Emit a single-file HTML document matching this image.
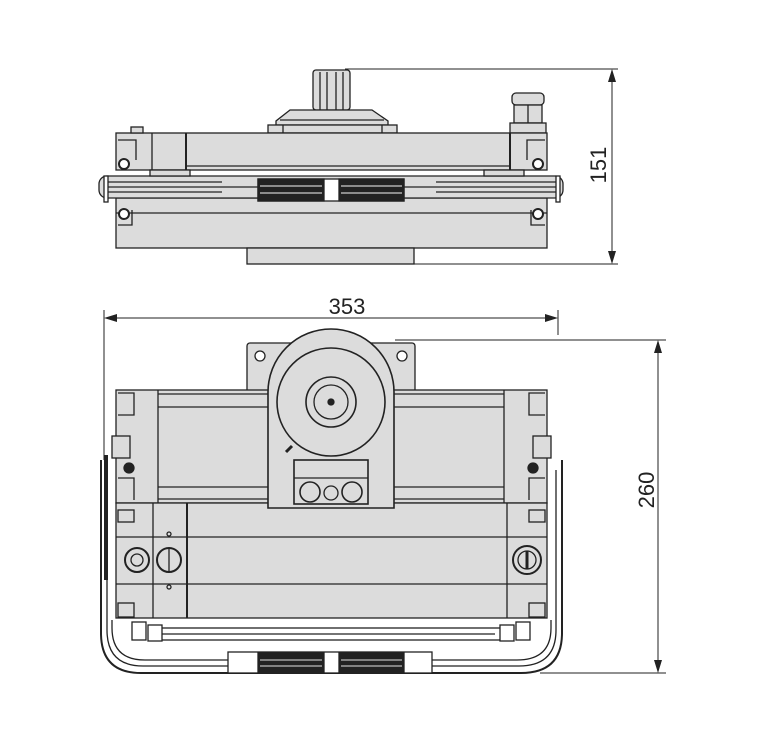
<!DOCTYPE html>
<html><head><meta charset="utf-8"><style>
html,body{margin:0;padding:0;background:#fff;}
svg{display:block;}
text{font-family:"Liberation Sans",sans-serif;fill:#222;}
</style></head><body>
<svg width="771" height="753" viewBox="0 0 771 753" xmlns="http://www.w3.org/2000/svg">
<g stroke="#222" stroke-width="1.3" fill="none">
<!-- ===== TOP VIEW ===== -->
<line x1="345" y1="69" x2="618" y2="69" stroke-width="1"/>
<line x1="414" y1="264" x2="618" y2="264" stroke-width="1"/>
<line x1="612" y1="72" x2="612" y2="261" stroke-width="1"/>
<polygon points="612,69 608,82 616,82" fill="#222" stroke="none"/>
<polygon points="612,264 608,251 616,251" fill="#222" stroke="none"/>
<rect x="313" y="70" width="37" height="40" rx="3" fill="#dcdcdc"/>
<line x1="320" y1="72" x2="320" y2="110"/><line x1="327" y1="72" x2="327" y2="110"/>
<line x1="336" y1="72" x2="336" y2="110"/><line x1="343" y1="72" x2="343" y2="110"/>
<polygon points="290,110 372,110 388,121 388,125 276,125 276,121" fill="#dcdcdc"/>
<line x1="280" y1="120" x2="384" y2="120"/>
<rect x="268" y="125" width="129" height="8" fill="#dcdcdc"/>
<line x1="283" y1="125" x2="283" y2="133"/><line x1="382" y1="125" x2="382" y2="133"/>
<rect x="512" y="93" width="32" height="12" rx="4" fill="#dcdcdc"/>
<rect x="514" y="105" width="28" height="18" fill="#dcdcdc"/>
<line x1="528" y1="105" x2="528" y2="123"/>
<rect x="510" y="123" width="36" height="10" fill="#dcdcdc"/>
<rect x="116" y="133" width="431" height="37" fill="#dcdcdc"/>
<line x1="152" y1="133" x2="152" y2="248"/>
<line x1="186" y1="133" x2="186" y2="248" stroke-width="2"/>
<line x1="510" y1="133" x2="510" y2="248" stroke-width="2"/>
<line x1="186" y1="166" x2="510" y2="166"/>
<rect x="131" y="127" width="12" height="6" fill="#dcdcdc"/>
<rect x="116" y="198" width="431" height="50" fill="#dcdcdc"/>
<line x1="116" y1="213" x2="547" y2="213"/>
<rect x="247" y="248" width="167" height="16" fill="#dcdcdc"/>
<rect x="99" y="176" width="464" height="22" rx="8" fill="#dcdcdc"/>
<line x1="104" y1="187" x2="558" y2="187"/>
<line x1="104" y1="182" x2="222" y2="182"/><line x1="104" y1="192" x2="222" y2="192"/>
<line x1="436" y1="182" x2="558" y2="182"/><line x1="436" y1="192" x2="558" y2="192"/>
<rect x="258" y="179" width="146" height="22" fill="#fff"/>
<rect x="258" y="179" width="66" height="22" fill="#222"/>
<rect x="339" y="179" width="65" height="22" fill="#222"/>
<line x1="260" y1="186" x2="322" y2="186" stroke="#ccc"/><line x1="260" y1="193" x2="322" y2="193" stroke="#ccc"/>
<line x1="341" y1="186" x2="402" y2="186" stroke="#ccc"/><line x1="341" y1="193" x2="402" y2="193" stroke="#ccc"/>
<rect x="150" y="170" width="40" height="6" fill="#dcdcdc"/>
<rect x="484" y="170" width="40" height="6" fill="#dcdcdc"/>
<path d="M118 140 h18 v20 M118 225 h14 v-15 M545 140 h-18 v20 M545 225 h-14 v-15"/>
<circle cx="124" cy="164" r="5" fill="#fff" stroke-width="2"/>
<circle cx="124" cy="214" r="5" fill="#fff" stroke-width="2"/>
<circle cx="538" cy="164" r="5" fill="#fff" stroke-width="2"/>
<circle cx="538" cy="214" r="5" fill="#fff" stroke-width="2"/>
<rect x="104" y="176" width="4" height="26" fill="#fff"/>
<rect x="556" y="176" width="4" height="26" fill="#fff"/>

<!-- ===== BOTTOM VIEW ===== -->
<line x1="104" y1="310" x2="104" y2="460" stroke-width="1"/>
<line x1="558" y1="310" x2="558" y2="335" stroke-width="1"/>
<line x1="107" y1="318" x2="555" y2="318" stroke-width="1"/>
<polygon points="104,318 117,314 117,322" fill="#222" stroke="none"/>
<polygon points="558,318 545,314 545,322" fill="#222" stroke="none"/>
<line x1="395" y1="340" x2="666" y2="340" stroke-width="1"/>
<line x1="540" y1="673" x2="666" y2="673" stroke-width="1"/>
<line x1="658" y1="343" x2="658" y2="670" stroke-width="1"/>
<polygon points="658,340 654,353 662,353" fill="#222" stroke="none"/>
<polygon points="658,673 654,660 662,660" fill="#222" stroke="none"/>
<path d="M101 460 L101 633 Q101 673 141 673 L521 673 Q562 673 562 633 L562 460" stroke-width="2"/>
<path d="M107 470 L107 630 Q107 666 143 666 L519 666 Q556 666 556 630 L556 470"/>
<path d="M112 620 L112 628 Q112 660 145 660 L517 660 Q551 660 551 628 L551 620"/>
<rect x="247" y="343" width="168" height="50" rx="3" fill="#dcdcdc"/>
<circle cx="260" cy="356" r="5" fill="#fff"/>
<circle cx="402" cy="356" r="5" fill="#fff"/>
<rect x="116" y="390" width="431" height="113" fill="#dcdcdc"/>
<line x1="158" y1="390" x2="158" y2="503"/>
<line x1="504" y1="390" x2="504" y2="503"/>
<line x1="158" y1="394" x2="504" y2="394"/><line x1="158" y1="407" x2="504" y2="407"/>
<line x1="158" y1="487" x2="504" y2="487"/><line x1="158" y1="499" x2="504" y2="499"/>
<rect x="116" y="503" width="431" height="115" fill="#dcdcdc"/>
<line x1="153" y1="503" x2="153" y2="618"/>
<line x1="187" y1="503" x2="187" y2="618" stroke-width="2"/>
<line x1="507" y1="503" x2="507" y2="618"/>
<line x1="116" y1="537" x2="547" y2="537"/>
<line x1="116" y1="584" x2="547" y2="584"/>
<circle cx="137" cy="560" r="12" fill="#dcdcdc" stroke-width="2"/>
<circle cx="137" cy="560" r="6"/>
<circle cx="169" cy="560" r="12" fill="#dcdcdc" stroke-width="2"/>
<line x1="169" y1="549" x2="169" y2="571"/>
<circle cx="527" cy="560" r="14" fill="#dcdcdc" stroke-width="2"/>
<circle cx="527" cy="560" r="9"/>
<line x1="527" y1="551" x2="527" y2="569" stroke-width="3"/>
<circle cx="169" cy="534" r="2"/><circle cx="169" cy="587" r="2"/>
<rect x="150" y="628" width="355" height="12" fill="#fff"/>
<line x1="160" y1="634" x2="495" y2="634"/>
<rect x="132" y="622" width="14" height="18" fill="#fff"/>
<rect x="148" y="625" width="14" height="16" fill="#fff"/>
<rect x="500" y="625" width="14" height="16" fill="#fff"/>
<rect x="516" y="622" width="14" height="18" fill="#fff"/>
<rect x="228" y="652" width="204" height="21" fill="#fff"/>
<rect x="258" y="653" width="66" height="20" fill="#222"/>
<rect x="339" y="653" width="65" height="20" fill="#222"/>
<line x1="260" y1="660" x2="322" y2="660" stroke="#bbb"/><line x1="341" y1="660" x2="402" y2="660" stroke="#bbb"/>
<line x1="260" y1="666" x2="322" y2="666" stroke="#bbb"/><line x1="341" y1="666" x2="402" y2="666" stroke="#bbb"/>
<path d="M118 393 h16 v22 h-16 M118 478 h16 v22 M545 393 h-16 v22 h16 M545 478 h-16 v22"/>
<rect x="112" y="436" width="18" height="22" fill="#dcdcdc"/>
<rect x="533" y="436" width="18" height="22" fill="#dcdcdc"/>
<circle cx="129" cy="468" r="5" fill="#222"/>
<circle cx="533" cy="468" r="5" fill="#222"/>
<rect x="118" y="510" width="16" height="12"/><rect x="529" y="510" width="16" height="12"/>
<rect x="118" y="603" width="16" height="14"/><rect x="529" y="603" width="16" height="14"/>
<rect x="104" y="455" width="4" height="125" fill="#222" stroke="none"/>
<!-- center housing -->
<path d="M268 508 L268 392 A63 63 0 0 1 394 392 L394 508 Z" fill="#dcdcdc" stroke-width="1.6"/>
<circle cx="331" cy="402" r="54" fill="#dcdcdc" stroke-width="1.6"/>
<circle cx="331" cy="402" r="25" fill="#dcdcdc" stroke-width="1.6"/>
<circle cx="331" cy="402" r="17" fill="#dcdcdc"/>
<circle cx="331" cy="402" r="3" fill="#222"/>
<line x1="286" y1="452" x2="292" y2="446" stroke-width="3"/>
<rect x="294" y="460" width="74" height="44" fill="#dcdcdc" stroke-width="1.6"/>
<line x1="294" y1="478" x2="368" y2="478"/>
<circle cx="310" cy="492" r="10" fill="#dcdcdc" stroke-width="1.6"/>
<circle cx="331" cy="493" r="7" fill="#dcdcdc"/>
<circle cx="352" cy="492" r="10" fill="#dcdcdc" stroke-width="1.6"/>
</g>
<text x="347" y="314" font-size="22" text-anchor="middle">353</text>
<text transform="translate(606,165) rotate(-90)" font-size="22" text-anchor="middle">151</text>
<text transform="translate(654,490) rotate(-90)" font-size="22" text-anchor="middle">260</text>
</svg>
</body></html>
